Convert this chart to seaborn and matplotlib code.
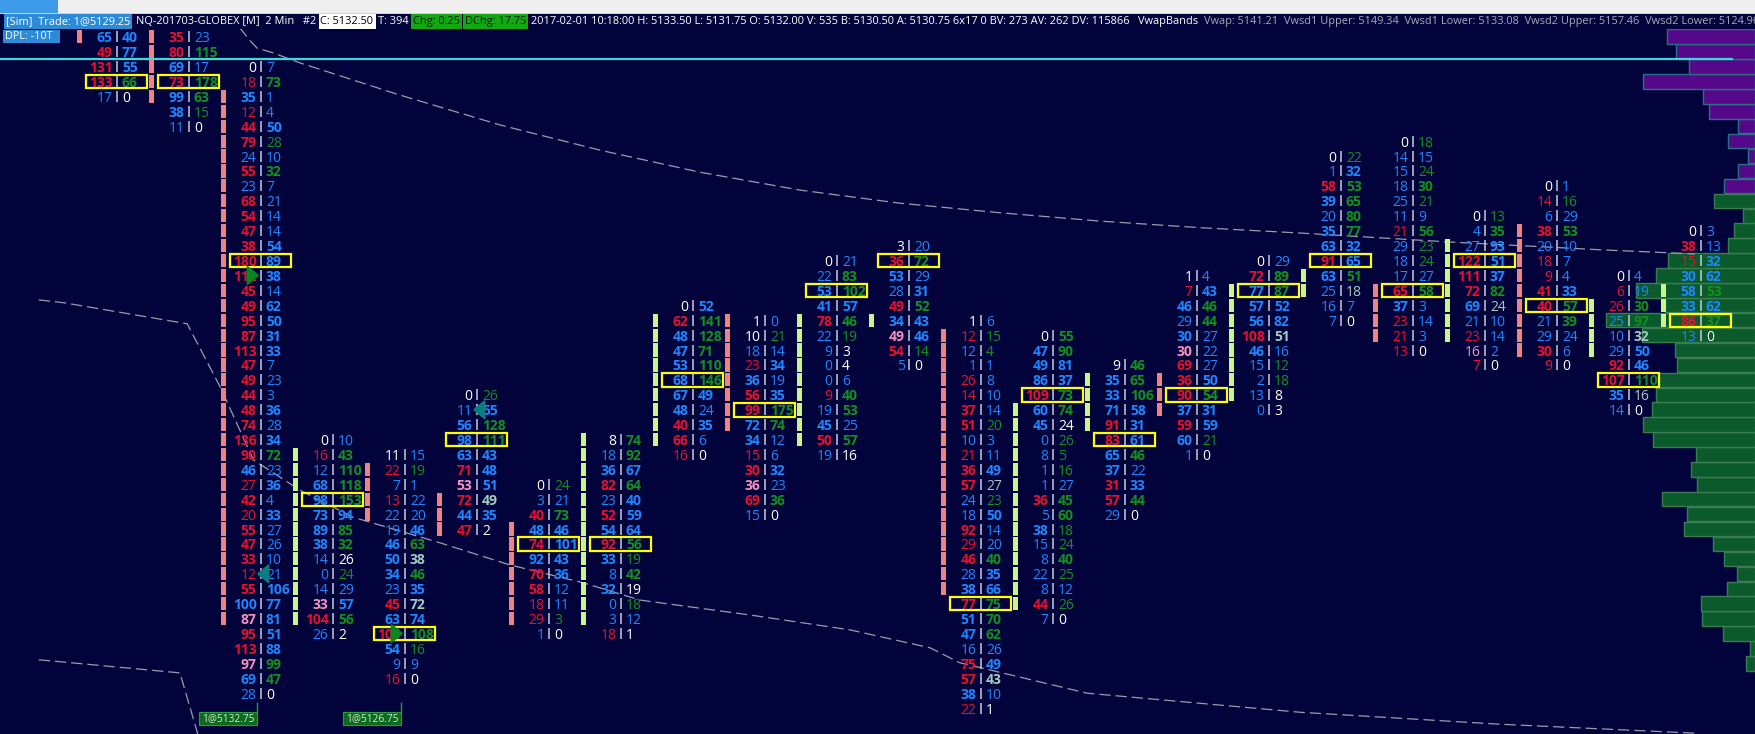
import numpy as np
import pandas as pd
import seaborn as sns
import matplotlib.pyplot as plt
from matplotlib.patches import Rectangle, Polygon

TICK = 0.25

# ---- footprint: one list per 2 min bar, bid | ask volume from the top price down
highs = [5136.75, 5136.75, 5136.25, 5130.00, 5129.75, 5130.75, 5129.25, 5130.00,
         5132.25, 5132.00, 5133.00, 5133.25, 5132.00, 5131.75, 5131.25, 5132.75,
         5133.00, 5134.75, 5135.00, 5133.75, 5134.25, 5132.75, 5133.50]
bids = [
    [65, 49, 131, 133, 17],
    [35, 80, 69, 73, 99, 38, 11],
    [0, 18, 35, 12, 44, 79, 24, 55, 23, 68, 54, 47, 38, 180, 112, 45, 49, 95, 87, 113,
     47, 49, 44, 48, 74, 136, 90, 46, 27, 42, 20, 55, 47, 33, 12, 55, 100, 87, 95, 113,
     97, 69, 28],
    [0, 16, 12, 68, 98, 73, 89, 38, 14, 0, 14, 33, 104, 26],
    [11, 22, 7, 13, 22, 19, 46, 50, 34, 23, 45, 63, 105, 54, 9, 16],
    [0, 11, 56, 98, 63, 71, 53, 72, 44, 47],
    [0, 3, 40, 48, 74, 92, 70, 58, 18, 29, 1],
    [8, 18, 36, 82, 23, 52, 54, 92, 33, 8, 32, 0, 3, 18],
    [0, 62, 48, 47, 53, 68, 67, 48, 40, 66, 16],
    [1, 10, 18, 23, 36, 56, 99, 72, 34, 15, 30, 36, 69, 15],
    [0, 22, 53, 41, 78, 22, 9, 0, 0, 9, 19, 45, 50, 19],
    [3, 36, 53, 28, 49, 34, 49, 54, 5],
    [1, 12, 12, 1, 26, 14, 37, 51, 10, 21, 36, 57, 24, 18, 92, 29, 46, 28, 38, 77,
     51, 47, 16, 75, 57, 38, 22],
    [0, 47, 49, 86, 109, 60, 45, 0, 8, 1, 1, 36, 5, 38, 15, 8, 22, 8, 44, 7],
    [9, 35, 33, 71, 91, 83, 65, 37, 31, 57, 29],
    [1, 7, 46, 29, 30, 30, 69, 36, 90, 37, 59, 60, 1],
    [0, 72, 77, 57, 56, 108, 46, 15, 2, 13, 0],
    [0, 1, 58, 39, 20, 35, 63, 91, 63, 25, 16, 7],
    [0, 14, 15, 18, 25, 11, 21, 29, 18, 17, 65, 37, 23, 21, 13],
    [0, 4, 27, 122, 111, 72, 69, 21, 23, 16, 7],
    [0, 14, 6, 38, 20, 18, 9, 41, 40, 21, 29, 30, 9],
    [0, 6, 26, 25, 10, 29, 92, 107, 35, 14],
    [0, 38, 15, 30, 58, 33, 86, 13],
]
asks = [
    [40, 77, 55, 66, 0],
    [23, 115, 17, 178, 63, 15, 0],
    [7, 73, 1, 4, 50, 28, 10, 32, 7, 21, 14, 14, 54, 89, 38, 14, 62, 50, 31, 33,
     7, 23, 3, 36, 28, 34, 72, 23, 36, 4, 33, 27, 26, 10, 21, 106, 77, 81, 51, 88,
     99, 47, 0],
    [10, 43, 110, 118, 153, 94, 85, 32, 26, 24, 29, 57, 56, 2],
    [15, 19, 1, 22, 20, 46, 63, 38, 46, 35, 72, 74, 108, 16, 9, 0],
    [26, 55, 128, 111, 43, 48, 51, 49, 35, 2],
    [24, 21, 73, 46, 101, 43, 36, 12, 11, 3, 0],
    [74, 92, 67, 64, 40, 59, 64, 56, 19, 42, 19, 18, 12, 1],
    [52, 141, 128, 71, 110, 146, 49, 24, 35, 6, 0],
    [0, 21, 14, 34, 19, 35, 175, 74, 12, 6, 32, 23, 36, 0],
    [21, 83, 102, 57, 46, 19, 3, 4, 6, 40, 53, 25, 57, 16],
    [20, 72, 29, 31, 52, 43, 46, 14, 0],
    [6, 15, 4, 1, 8, 10, 14, 20, 3, 11, 49, 27, 23, 50, 14, 20, 40, 35, 66, 75,
     70, 62, 26, 49, 43, 10, 1],
    [55, 90, 81, 37, 73, 74, 24, 26, 5, 16, 27, 45, 60, 18, 24, 40, 25, 12, 26, 0],
    [46, 65, 106, 58, 31, 61, 46, 22, 33, 44, 0],
    [4, 43, 46, 44, 27, 22, 27, 50, 54, 31, 59, 21, 0],
    [29, 89, 87, 52, 82, 51, 16, 12, 18, 8, 3],
    [22, 32, 53, 65, 80, 77, 32, 65, 51, 18, 7, 0],
    [18, 15, 24, 30, 21, 9, 56, 23, 24, 27, 58, 3, 14, 3, 0],
    [13, 35, 93, 51, 37, 82, 24, 10, 14, 2, 0],
    [1, 16, 29, 53, 10, 7, 4, 33, 57, 39, 24, 6, 0],
    [4, 19, 30, 97, 32, 50, 46, 110, 16, 0],
    [3, 13, 32, 62, 53, 62, 37, 0],
]
opens = [5137.00, 5136.75, 5135.75, 5127.00, 5129.50, 5129.00, 5128.50, 5127.00,
         5130.00, 5132.00, 5130.00, 5132.00, 5131.75, 5127.25, 5130.25, 5131.00,
         5130.75, 5132.50, 5132.50, 5131.75, 5133.50, 5131.50, 5132.00]
closes = [5136.75, 5135.75, 5127.00, 5129.75, 5128.75, 5128.50, 5127.00, 5130.00,
          5132.00, 5130.25, 5132.00, 5132.00, 5127.50, 5130.50, 5131.00, 5130.50,
          5132.50, 5132.75, 5131.75, 5133.25, 5131.50, 5132.25, 5132.50]
# first rows of bars 0 and 1 continue under the header: colour
top_bid_colour = {0: "blue", 1: "red"}

# markers
arrow_bar = [2, 2, 4, 5]
arrow_price = [5132.75, 5127.75, 5126.75, 5130.50]
arrow_dir = [">", "<", ">", "<"]
trade_bar = [2, 4]
trade_text = ["1@5132.75", "1@5126.75"]
dpl_price = 5136.375

# volume profile on the right edge (relative length), top price down
profile_top = 5136.75
profile_vol = [88, 79, 66, 112, 52, 46, 17, 27, 7, 17, 31,
               41, 12, 21, 27, 87, 99, 119, 90, 149, 113, 80, 78, 97, 99, 103,
               112, 102, 59, 64, 58, 93, 68, 71, 42, 31, 18, 28, 54, 53, 32, 5, 9]
profile_upper_rows = 11

# vwap band lines (bar index, price)
band1_x = [1.70, 1.84, 1.94, 2.16, 2.54, 3.93, 5.32, 6.70, 8.09, 9.48, 10.87,
           12.26, 13.65, 15.04, 16.43, 18.51, 20.59, 21.91]
band1_y = [5136.90, 5136.69, 5136.56, 5136.48, 5136.31, 5135.77, 5135.27, 5134.85,
           5134.48, 5134.18, 5133.96, 5133.80, 5133.66, 5133.55, 5133.46, 5133.31,
           5133.18, 5133.11]
band2_x = [-1.09, -0.73, 0.97, 1.43, 1.89, 2.54, 3.27, 4.48, 5.45, 6.47, 7.26, 8.79,
           10.18, 11.29, 11.70, 13.47, 16.43, 19.20, 21.91]
band2_y = [5132.34, 5132.29, 5131.94, 5130.88, 5129.66, 5129.15, 5128.70, 5128.27,
           5127.90, 5127.60, 5127.31, 5127.06, 5126.81, 5126.51, 5126.26, 5125.75,
           5125.43, 5125.23, 5125.08]
band3_x = [-1.09, 0.87, 1.09, 1.22]
band3_y = [5126.31, 5126.09, 5125.18, 5124.63]

# header strip: text, colour, background, gap before (px)
header_items = [
    ("[Sim]  Trade: 1@5129.25", "#ffffff", "#2d8ad6", 4),
    ("NQ-201703-GLOBEX [M]  2 Min   #2", "#ffffff", None, 6),
    ("C: 5132.50", "#000000", "#ffffff", 4),
    ("T: 394", "#ffffff", None, 4),
    ("Chg: 0.25", "#0a1a0a", "#12a812", 5),
    ("DChg: 17.75", "#0a1a0a", "#12a812", 5),
    ("2017-02-01 10:18:00 H: 5133.50 L: 5131.75 O: 5132.00 V: 535 B: 5130.50 "
     "A: 5130.75 6x17 0 BV: 273 AV: 262 DV: 115866", "#ffffff", None, 5),
    ("VwapBands", "#ffffff", None, 8),
    ("Vwap: 5141.21  Vwsd1 Upper: 5149.34  Vwsd1 Lower: 5133.08  "
     "Vwsd2 Upper: 5157.46  Vwsd2 Lower: 5124.96", "#a9a9b6", None, 6),
]

# ---- style
BG = "#03033c"
RED, BLUE, GREEN = "#e8112d", "#1e86ff", "#12901f"
PINK, MINT, WHITE = "#f590be", "#a3cbc2", "#ffffff"
SEP = "#c5cbe0"
UPBAR, DNBAR = "#c8f58c", "#f08282"

sns.set_theme(style="dark")
plt.rcParams["font.family"] = ["Open Sans", "DejaVu Sans"]

W, H = 1755, 734
X0, DX = 117.3, 72.0      # px of first bar separator, px per bar
Y0, DY = 36.7, 14.92      # px of first visible row, px per tick
P0 = highs[0]
ux, uy = 1 / DX, TICK / DY


def shade(v, ref, strong, light):
    if ref is None or ref == 0:
        return WHITE
    r = v / ref
    if r > 1.15:
        return strong
    if r >= 1.10:
        return light
    return BLUE


rows = []
for i in range(len(highs)):
    b, a = bids[i], asks[i]
    for j in range(len(b)):
        bc = shade(b[j], a[j - 1] if j > 0 else None, RED, PINK)
        ac = shade(a[j], b[j + 1] if j < len(b) - 1 else None, GREEN, MINT)
        if j == 0 and i in top_bid_colour:
            bc = {"blue": BLUE, "red": RED}[top_bid_colour[i]]
        rows.append(dict(bar=i, price=highs[i] - j * TICK, bid=b[j], ask=a[j],
                         bcol=bc, acol=ac))
fp = pd.DataFrame(rows)
fp["tot"] = fp.bid + fp.ask
poc = fp.loc[fp.groupby("bar")["tot"].idxmax()]

fig = plt.figure(figsize=(W / 100, H / 100), dpi=100)
fig.patch.set_facecolor(BG)
ax = fig.add_axes([0, 0, 1, 1])
ax2 = ax.twiny()

# volume profile (seaborn) on the twin axis, bars grow from the right edge
prof = pd.DataFrame({
    "price": [profile_top - k * TICK for k in range(len(profile_vol))],
    "vol": profile_vol,
    "zone": ["up" if k < profile_upper_rows else "dn" for k in range(len(profile_vol))],
})
sns.barplot(data=prof, x="vol", y="price", hue="zone", orient="y", native_scale=True,
            palette={"up": "#55098a", "dn": "#0b5a2c"}, dodge=False, legend=False,
            errorbar=None, width=0.97, saturation=1, linewidth=1, ax=ax2)
for p in ax2.patches:
    p.set_edgecolor("#2a6f86" if p.get_facecolor()[2] > 0.4 else "#3a7d52")
ax2.set_xlim(W, 0)
ax2.axis("off")

ax.set_zorder(2)
ax2.set_zorder(1)
ax.patch.set_visible(False)

# vwap bands
for bx, by in [(band1_x, band1_y), (band2_x, band2_y), (band3_x, band3_y)]:
    sns.lineplot(x=bx, y=by, ax=ax, color="#9c9cab", lw=0.9, linestyle=(0, (9, 4)),
                 errorbar=None, sort=False)

# dpl level
ax.hlines(dpl_price, -X0 * ux, (1733 - X0) * ux, color="#3fd7d9", lw=1.6, zorder=3)

# candle bodies, one segment per tick
for i in range(len(highs)):
    lo, hi = sorted([opens[i], closes[i]])
    n = int(round((hi - lo) / TICK)) + 1
    ys = [lo + k * TICK for k in range(n)]
    col = UPBAR if closes[i] >= opens[i] else DNBAR
    ax.bar([i - 37.5 * ux] * n, [TICK * 0.88] * n, bottom=[y - TICK * 0.44 for y in ys],
           width=5 * ux, color=col, linewidth=0, zorder=3)

# numbers
for r in fp.itertuples():
    ax.text(r.bar - 4.7 * ux, r.price, str(r.bid), ha="right", va="center_baseline",
            color=r.bcol, fontsize=10, fontweight="bold" if r.bid >= 30 else "normal",
            zorder=5)
    ax.text(r.bar + 4.7 * ux, r.price, str(r.ask), ha="left", va="center_baseline",
            color=r.acol, fontsize=10, fontweight="bold" if r.ask >= 30 else "normal",
            zorder=5)
ax.vlines(fp.bar, fp.price - 5.5 * uy, fp.price + 5.5 * uy, color=SEP, lw=1.1, zorder=5)

# POC boxes
for r in poc.itertuples():
    ax.add_patch(Rectangle((r.bar - 31 * ux, r.price - 6.8 * uy), 61 * ux, 13.4 * uy,
                           fill=False, edgecolor="#ffff00", lw=1.6, zorder=6))

# triangles
for b, p, d in zip(arrow_bar, arrow_price, arrow_dir):
    if d == ">":
        pts = [(b - 14 * ux, p + 9 * uy), (b - 14 * ux, p - 9 * uy), (b - 3 * ux, p)]
        c = "#07871f"
    else:
        pts = [(b + 7.5 * ux, p + 9 * uy), (b + 7.5 * ux, p - 9 * uy), (b - 3.5 * ux, p)]
        c = "#0b7d80"
    ax.add_patch(Polygon(pts, closed=True, color=c, zorder=7))

# trade labels under bars
ybox_top = P0 - (712 - Y0) * uy
for b, t in zip(trade_bar, trade_text):
    xr = b - 4 * ux
    ax.vlines(xr, ybox_top, P0 - (702 - Y0) * uy, color="#2b9a3b", lw=1, zorder=6)
    ax.add_patch(Rectangle((xr - 58 * ux, ybox_top - 13 * uy), 58 * ux, 13 * uy,
                           facecolor="#0b6a1b", edgecolor="#2b9a3b", lw=0.8, zorder=6))
    ax.text(xr - 29 * ux, ybox_top - 6.5 * uy, t, ha="center", va="center",
            color="#d8e8d8", fontsize=7.3, zorder=7)

ax.set_xlim(-X0 * ux, (W - X0) * ux)
ax.set_ylim(P0 - (H - Y0) * uy, P0 + Y0 * uy)
ax.axis("off")


# ---- header (figure pixels)
def frect(x0, y0, x1, y1, c, z=10):
    fig.add_artist(Rectangle((x0 / W, 1 - y1 / H), (x1 - x0) / W, (y1 - y0) / H,
                             transform=fig.transFigure, facecolor=c, edgecolor="none",
                             zorder=z))


frect(0, 0, W, 13.5, "#efefef")
frect(0, 12.8, W, 13.6, "#d2d2d2", 11)
frect(0, 0, 58, 12.5, "#3d9be9", 11)
frect(0, 13.6, W, 29.2, BG)
frect(3, 29.6, 60, 43, "#2d8ad6")
fig.text(5 / W, 1 - 36.5 / H, "DPL: -10T", color="#ffffff", fontsize=7.8,
         va="center", zorder=12)
renderer = fig.canvas.get_renderer()
cx = 2
for txt, c, bgc, gap in header_items:
    x = cx + gap
    t = fig.text(x / W, 1 - 21.6 / H, txt, color=c, fontsize=7.9, va="center", zorder=12)
    bb = t.get_window_extent(renderer)
    if bgc:
        frect(x - 2, 14, bb.x1 + 2, 29, bgc, 11)
    cx = bb.x1

fig.savefig("out.png", dpi=100, facecolor=BG)
